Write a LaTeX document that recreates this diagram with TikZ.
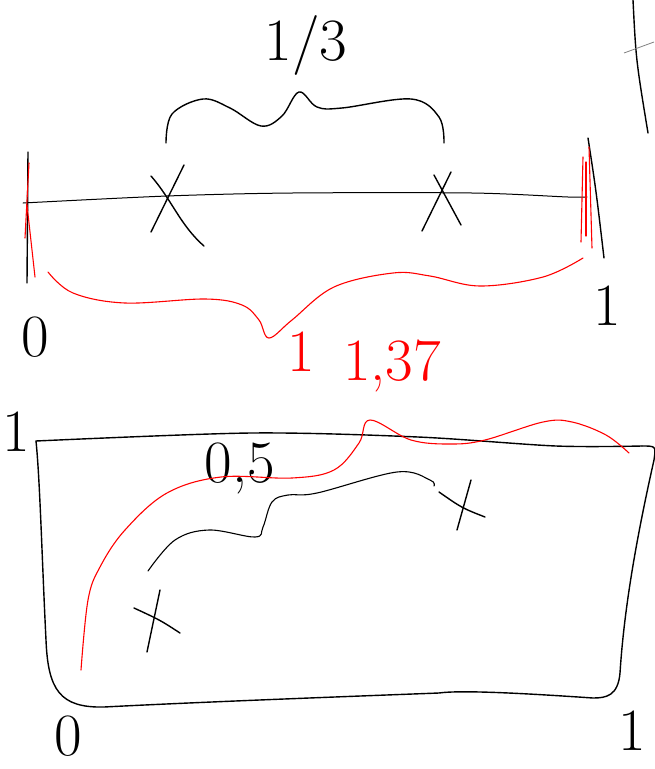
\documentclass[tikz,border=0pt]{standalone}
\begin{document}
\begin{tikzpicture}[x=1pt,y=-1pt,
  ink/.style={line width=1.4pt,line cap=round,line join=round},
  redink/.style={ink,red,line width=1.1pt},
  lbl/.style={inner sep=0pt,font=\fontsize{60}{60}\selectfont},
  redlbl/.style={lbl,text=red}]
\useasboundingbox (0,0) rectangle (655,769);
% upper segment from 0 to 1
\draw[ink,line width=1pt] plot[smooth] coordinates {(23,203) (167,196) (292,193) (472,193) (568,197) (587,197)};
\draw[ink] (28,152) -- (27,283);
\draw[ink] (588,138) .. controls (596,190) .. (604,258);
\draw[redink] (29,163) -- (25,238);
\draw[redink] (27,205) -- (35,277);
\draw[redink] (583,157) -- (581,242);
\draw[redink] (589,147) -- (592,248);
\draw[redink] (586,162) -- (586,236);
% crosses
\draw[ink] (151,176) .. controls (172,200) and (180,225) .. (204,246);
\draw[ink] (184,165) -- (151,232);
\draw[ink] (434,175) -- (461,225);
\draw[ink] (451,172) -- (422,231);
% brace over the middle third
\draw[ink] plot[smooth,tension=0.6] coordinates {(166,143) (172,114) (203,99) (230,108) (261,126) (282,116) (299,92) (317,107) (342,108) (411,99) (439,117) (444,143)};
\node[lbl] (third) at (306,45) {1/3};
% red brace under the whole segment
\draw[redink] plot[smooth,tension=0.6] coordinates {(48,272) (73,293) (125,303) (205,299) (242,305) (259,320) (269,338) (292,320) (334,287) (393,273) (430,276) (480,286) (543,277) (583,258)};
\node[lbl] (zeroA) at (35,337) {0};
\node[lbl] (oneA) at (607,306) {1};
\node[redlbl] (oneRed) at (301,352) {1};
\node[redlbl] (lenB) at (392,366) {1,37};
% stray tick top right
\draw[ink] (633,0) .. controls (636,60) .. (648,133);
\draw[gray,line width=0.8pt] (624,53) -- (654,42);
% lower square
\node[lbl] (oneB) at (16,432) {1};
\draw[ink] plot[smooth,tension=0.5] coordinates {(36,441) (251,433) (418,437) (556,446) (642,446)};
\draw[ink] (642,446) .. controls (656,446) .. (654,460) .. controls (636,540) and (624,610) .. (620,673) .. controls (618,696) and (606,698) .. (593,698) .. controls (520,693) and (460,690) .. (439,693) .. controls (360,696) and (200,702) .. (104,707) .. controls (60,708) and (48,690) .. (46,640) .. controls (42,560) and (40,480) .. (36,441);
\node[lbl] (zeroB) at (68,736) {0};
\node[lbl] (oneC) at (632,731) {1};
% crosses and black brace inside
\draw[ink] (160,590) -- (147,652);
\draw[ink] (134,608) .. controls (160,620) .. (180,633);
\draw[ink] (471,480) -- (457,530);
\draw[ink] (439,492) .. controls (462,508) .. (485,517);
\draw[ink,line width=1.1pt] plot[smooth,tension=0.6] coordinates {(148,571) (175,540) (209,530) (255,537) (263,527) (272,502) (288,495) (317,493) (397,472) (430,480) (434,486)};
\node[lbl] (half) at (240,468) {0,5};
% red brace across the square
\draw[redink] plot[smooth,tension=0.6] coordinates {(81,670) (88,600) (100,567) (125,530) (167,493) (221,477) (292,478) (334,470) (359,443) (370,420) (411,440) (451,444) (485,440) (543,422) (572,422) (606,435) (629,453)};
\end{tikzpicture}
\end{document}
